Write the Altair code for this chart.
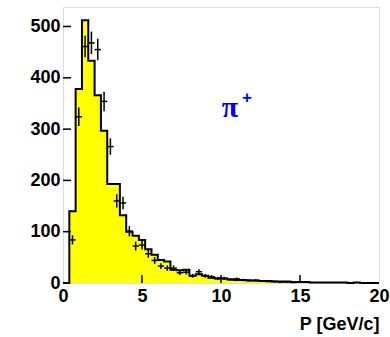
import altair as alt
import pandas as pd

# Histogram (simulation) - 0.4 GeV/c bins from 0 to 20
bin_left = [0.0, 0.4, 0.8, 1.2, 1.6, 2.0, 2.4, 2.8, 3.2, 3.6,
            4.0, 4.4, 4.8, 5.2, 5.6, 6.0, 6.4, 6.8, 7.2, 7.6,
            8.0, 8.4, 8.8, 9.2, 9.6, 10.0, 10.4, 10.8, 11.2, 11.6,
            12.0, 12.4, 12.8, 13.2, 13.6, 14.0, 14.4, 14.8, 15.2, 15.6,
            16.0, 16.4, 16.8, 17.2, 17.6, 18.0, 18.4, 18.8, 19.2, 19.6]
hist_counts = [0, 140, 378, 512, 433, 366, 297, 193, 193, 132,
               100, 92, 84, 66, 55, 45, 42, 26, 25, 26,
               14, 17, 14, 10, 9, 9, 7, 6, 6, 5,
               5, 4, 4, 3, 3, 3, 2, 2, 2, 1,
               1, 1, 1, 1, 1, 0, 1, 0, 0, 0]
x_max = 20.0

# Data points with error bars
data_x = [0.6, 1.0, 1.4, 1.8, 2.2, 2.6, 3.0, 3.4, 3.8, 4.2,
          4.6, 5.0, 5.4, 5.8, 6.2, 6.6, 7.0, 7.4, 7.8, 8.2,
          8.6, 9.0, 9.4, 9.8, 10.2, 10.6, 11.0, 11.4, 11.8, 12.2,
          12.6, 13.0, 13.4, 13.8, 14.2, 14.6]
data_y = [84, 324, 461, 468, 455, 354, 266, 160, 156, 101,
          72, 74, 57, 44, 33, 29, 29, 20, 21, 14,
          22, 14, 12, 9, 9, 7, 8, 6, 5, 5,
          4, 3, 3, 2, 2, 1]
data_err = [9, 18, 21, 22, 21, 19, 16, 13, 12, 10,
            8.5, 8.6, 7.5, 6.6, 5.7, 5.4, 5.4, 4.5, 4.6, 3.7,
            4.7, 3.7, 3.5, 3, 3, 2.6, 2.8, 2.4, 2.2, 2.2,
            2, 1.7, 1.7, 1.4, 1.4, 1]
half_bin = 0.2

x_ticks = [0, 5, 10, 15, 20]
y_ticks = [0, 100, 200, 300, 400, 500]

W, H = 316, 276

hist_df = pd.DataFrame({"p": bin_left + [x_max], "n": hist_counts + [hist_counts[-1]]})
pts = pd.DataFrame({"p": data_x, "n": data_y, "e": data_err})
pts["lo"] = pts["n"] - pts["e"]
pts["hi"] = pts["n"] + pts["e"]
pts["xl"] = pts["p"] - half_bin
pts["xr"] = pts["p"] + half_bin

lab_font = "Liberation Sans"
xscale = alt.Scale(domain=[0, 20], nice=False, zero=False)
yscale = alt.Scale(domain=[0, 538], nice=False)

xaxis = alt.Axis(values=x_ticks, title="P [GeV/c]", labelFont=lab_font, labelFontSize=18,
                 labelFontWeight="bold", labelColor="black", tickSize=0, domain=False,
                 grid=False, labelPadding=4, titleFont=lab_font, titleFontSize=18,
                 titleFontWeight="bold", titleColor="black", titleAnchor="end",
                 titleAlign="right", titleX=W, titleY=46, titleBaseline="alphabetic",
                 labelFlush=False, labelOverlap=False)
yaxis = alt.Axis(values=y_ticks, title=None, labelFont=lab_font, labelFontSize=18,
                 labelFontWeight="bold", labelColor="black", tickSize=0, domain=False,
                 grid=False, labelPadding=3, labelFlush=False, labelOverlap=False)

base = alt.Chart(hist_df)
area = base.mark_area(interpolate="step-after", color="#ffff00").encode(
    x=alt.X("p:Q", scale=xscale, axis=xaxis),
    y=alt.Y("n:Q", scale=yscale, axis=yaxis),
)
outline = base.mark_line(interpolate="step-after", color="black", strokeWidth=2).encode(
    x=alt.X("p:Q", scale=xscale), y=alt.Y("n:Q", scale=yscale)
)

pb = alt.Chart(pts)
vbar = pb.mark_rule(color="black", strokeWidth=1.5).encode(
    x=alt.X("p:Q", scale=xscale), y=alt.Y("lo:Q", scale=yscale), y2="hi:Q")
hbar = pb.mark_rule(color="black", strokeWidth=1.5).encode(
    x=alt.X("xl:Q", scale=xscale), x2="xr:Q", y=alt.Y("n:Q", scale=yscale))

xt = alt.Chart(pd.DataFrame({"t": x_ticks[1:-1]})).mark_rule(color="black", strokeWidth=1.5).encode(
    x=alt.X("t:Q", scale=xscale), y=alt.value(H), y2=alt.value(H - 8))
yt = alt.Chart(pd.DataFrame({"t": y_ticks[1:]})).mark_rule(color="black", strokeWidth=1.5).encode(
    y=alt.Y("t:Q", scale=yscale), x=alt.value(0), x2=alt.value(8))

pi_txt = alt.Chart(pd.DataFrame({"a": [1]})).mark_text(
    text="π", font="Liberation Serif", fontSize=30, fontWeight="bold",
    color="#0000ff", align="center", baseline="alphabetic"
).encode(x=alt.value(167), y=alt.value(110))
plus_txt = alt.Chart(pd.DataFrame({"a": [1]})).mark_text(
    text="+", font="Liberation Sans", fontSize=17, fontWeight="bold", color="#0000ff", align="center", baseline="alphabetic"
).encode(x=alt.value(184), y=alt.value(96))

chart = alt.layer(area, outline, vbar, hbar, xt, yt, pi_txt, plus_txt).properties(
    width=W, height=H,
    autosize=alt.AutoSizeParams(type="none"),
    padding={"left": 63, "top": 7, "right": 11, "bottom": 54},
).configure_view(stroke="black", strokeWidth=2).configure(background="white")

chart.save("out.html", embed_options={"renderer": "svg", "actions": False})
